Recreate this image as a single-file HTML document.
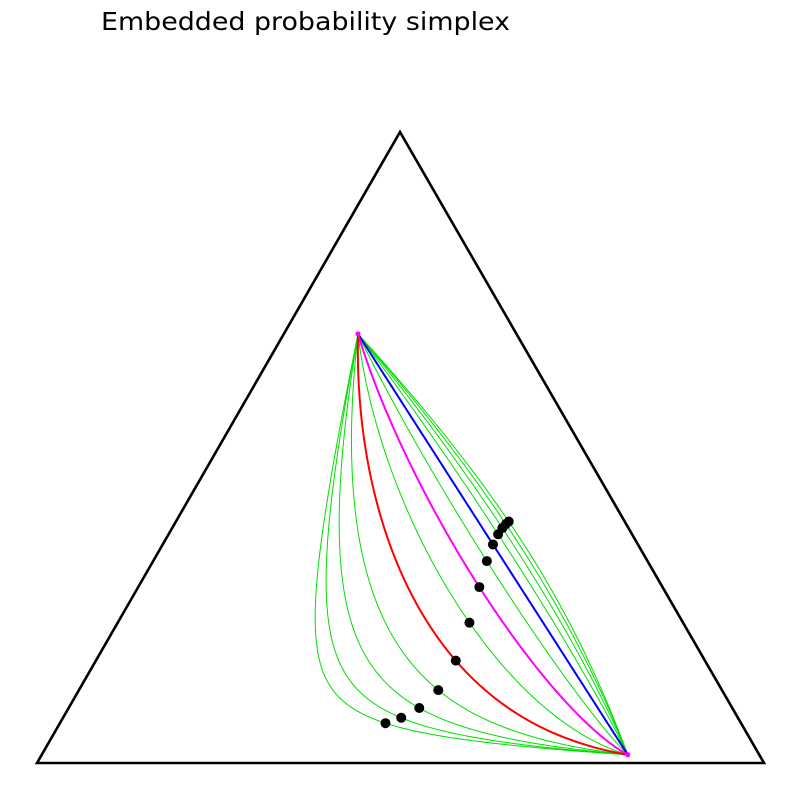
<!DOCTYPE html>
<html><head><meta charset="utf-8"><style>
html,body{margin:0;padding:0;background:#fff;}
svg{display:block;}
</style></head><body>
<svg id="chart" width="800" height="800" viewBox="0 0 800 800" xmlns="http://www.w3.org/2000/svg">
<text x="101" y="30" font-family="DejaVu Sans, Liberation Sans, sans-serif" font-size="25" textLength="409" lengthAdjust="spacingAndGlyphs" fill="#000">Embedded probability simplex</text>
<polygon points="400,132 37,763 764,763" fill="none" stroke="#000" stroke-width="2.6" stroke-linejoin="miter"/>
<g id="curves"></g>
<g id="dots"></g>
<g id="ends"></g>
</svg>
<script>
const alphas = [-3,-2.5,-2,-1.5,-1,-0.5,0,0.5,1,1.5,2,2.5,3];
const startPoint = [0.680,0.218,0.102];
const endPoint = [0.013,0.181,0.807];
const midT = 0.5;

const V = {top:[400,132], left:[37,763], right:[764,763]};
function toXY(p){
  const s=p[0]+p[1]+p[2];
  const a=p[0]/s,b=p[1]/s,c=p[2]/s;
  return [a*V.top[0]+b*V.left[0]+c*V.right[0], a*V.top[1]+b*V.left[1]+c*V.right[1]];
}
function geo(alpha,t){
  const r=[];
  for(let i=0;i<3;i++){
    const p=startPoint[i],q=endPoint[i];
    let v;
    if(Math.abs(alpha-1)<1e-9){ v=Math.exp((1-t)*Math.log(p)+t*Math.log(q)); }
    else { const e=(1-alpha)/2; v=Math.pow((1-t)*Math.pow(p,e)+t*Math.pow(q,e),1/e); }
    r.push(v);
  }
  return r;
}
const NS="http://www.w3.org/2000/svg";
const cg=document.getElementById('curves'), dg=document.getElementById('dots'), eg=document.getElementById('ends');
const order=alphas.map((a,i)=>i).sort((i,j)=>{
  const ci=(alphas[i]===-1||alphas[i]===0||alphas[i]===1)?1:0;
  const cj=(alphas[j]===-1||alphas[j]===0||alphas[j]===1)?1:0;return ci-cj;});
order.forEach(i=>{
  const a=alphas[i];
  let d='';
  for(let k=0;k<=200;k++){const xy=toXY(geo(a,k/200));d+=(k?'L':'M')+xy[0].toFixed(2)+','+xy[1].toFixed(2);}
  const path=document.createElementNS(NS,'path');
  path.setAttribute('d',d);
  let col='#00dd00',w=1;
  if(a===-1){col='#0000ff';w=2;} else if(a===0){col='#ff00ff';w=2;} else if(a===1){col='#ff0000';w=2;}
  path.setAttribute('stroke',col);path.setAttribute('stroke-width',w);path.setAttribute('fill','none');
  
  
  cg.appendChild(path);
});
alphas.forEach(a=>{
  const xy=toXY(geo(a,midT));
  const c=document.createElementNS(NS,'circle');
  c.setAttribute('cx',xy[0]);c.setAttribute('cy',xy[1]);c.setAttribute('r',5);c.setAttribute('fill','#000');
  
  
  dg.appendChild(c);
});
[startPoint,endPoint].forEach(p=>{
  const xy=toXY(p);
  const c=document.createElementNS(NS,'circle');
  c.setAttribute('cx',xy[0]);c.setAttribute('cy',xy[1]);c.setAttribute('r',2.5);c.setAttribute('fill','#ff00ff');
  
  
  eg.appendChild(c);
});
</script>
</body></html>
